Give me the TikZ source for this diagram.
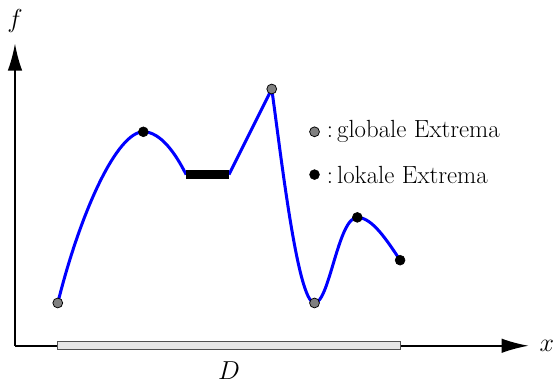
\documentclass[tikz,border=0pt]{standalone}
\usepackage{tikz}
\usetikzlibrary{arrows.meta}
\definecolor{globc}{HTML}{808080}
\definecolor{domc}{HTML}{E6E6E6}
\definecolor{domline}{HTML}{505050}
\tikzset{
  glob/.style={circle,draw=black,fill=globc,inner sep=0pt,minimum size=2.3mm,line width=0.5pt},
  lok/.style={circle,draw=black,fill=black,inner sep=0pt,minimum size=2.3mm},
  graphline/.style={blue,line width=2pt},
  plateau/.style={black,line width=5.8pt},
  axis/.style={line width=1pt,-{Latex[length=6.3mm,width=3.4mm]}},
  legtext/.style={anchor=west,inner sep=0pt}
}

\begin{document}
\begin{tikzpicture}[x=1cm,y=1cm,font=\fontsize{16.5}{19}\selectfont]
  \useasboundingbox (-0.35,-0.77) rectangle (12.62,8.08);
  % axes
  \coordinate (O) at (0,0);
  \coordinate (xend) at (12,0);
  \coordinate (yend) at (0,7.06);
  \draw[axis] (O) -- (xend);
  \draw[axis] (O) -- (yend);
  \node (xlab) at (12.43,0) {$x$};
  \node (flab) at (0,7.6) {$f$};
  % Definitionsbereich
  \node[draw=domline,fill=domc,line width=0.6pt,minimum width=8cm,minimum height=0.2cm,inner sep=0pt] (dom) at (5,0.01) {};
  \node[inner sep=1pt] (dlab) at (5,-0.58) {$D$};
  % Graph
  \coordinate (p1) at (1,1);
  \coordinate (p2) at (3,5);
  \coordinate (b1) at (4,4);
  \coordinate (b2) at (5,4);
  \coordinate (p3) at (6,6);
  \coordinate (p4) at (7,1);
  \coordinate (p5) at (8,3);
  \coordinate (p6) at (9,2);
  \draw[graphline] (p1) .. controls (1.55,3.2) and (2.4,5) .. (p2)
    .. controls (3.4,5) and (3.75,4.5) .. (b1);
  \draw[graphline] (b2) -- (p3) .. controls (6.2,4.6) and (6.6,1) .. (p4)
    .. controls (7.35,1) and (7.55,3) .. (p5)
    .. controls (8.35,3) and (8.7,2.45) .. (p6);
  \draw[plateau] (b1) -- (b2);
  % Extrema
  \node[glob] (g1) at (p1) {};
  \node[lok] (l1) at (p2) {};
  \node[glob] (g2) at (p3) {};
  \node[glob] (g3) at (p4) {};
  \node[lok] (l2) at (p5) {};
  \node[lok] (l3) at (p6) {};
  % Legende
  \node[glob] (leg1) at (7,5) {};
  \node[lok] (leg2) at (7,4) {};
  \node[legtext] (leg1t) at (7.28,5) {:\,globale Extrema};
  \node[legtext] (leg2t) at (7.28,4) {:\,lokale Extrema};
\end{tikzpicture}
\end{document}
